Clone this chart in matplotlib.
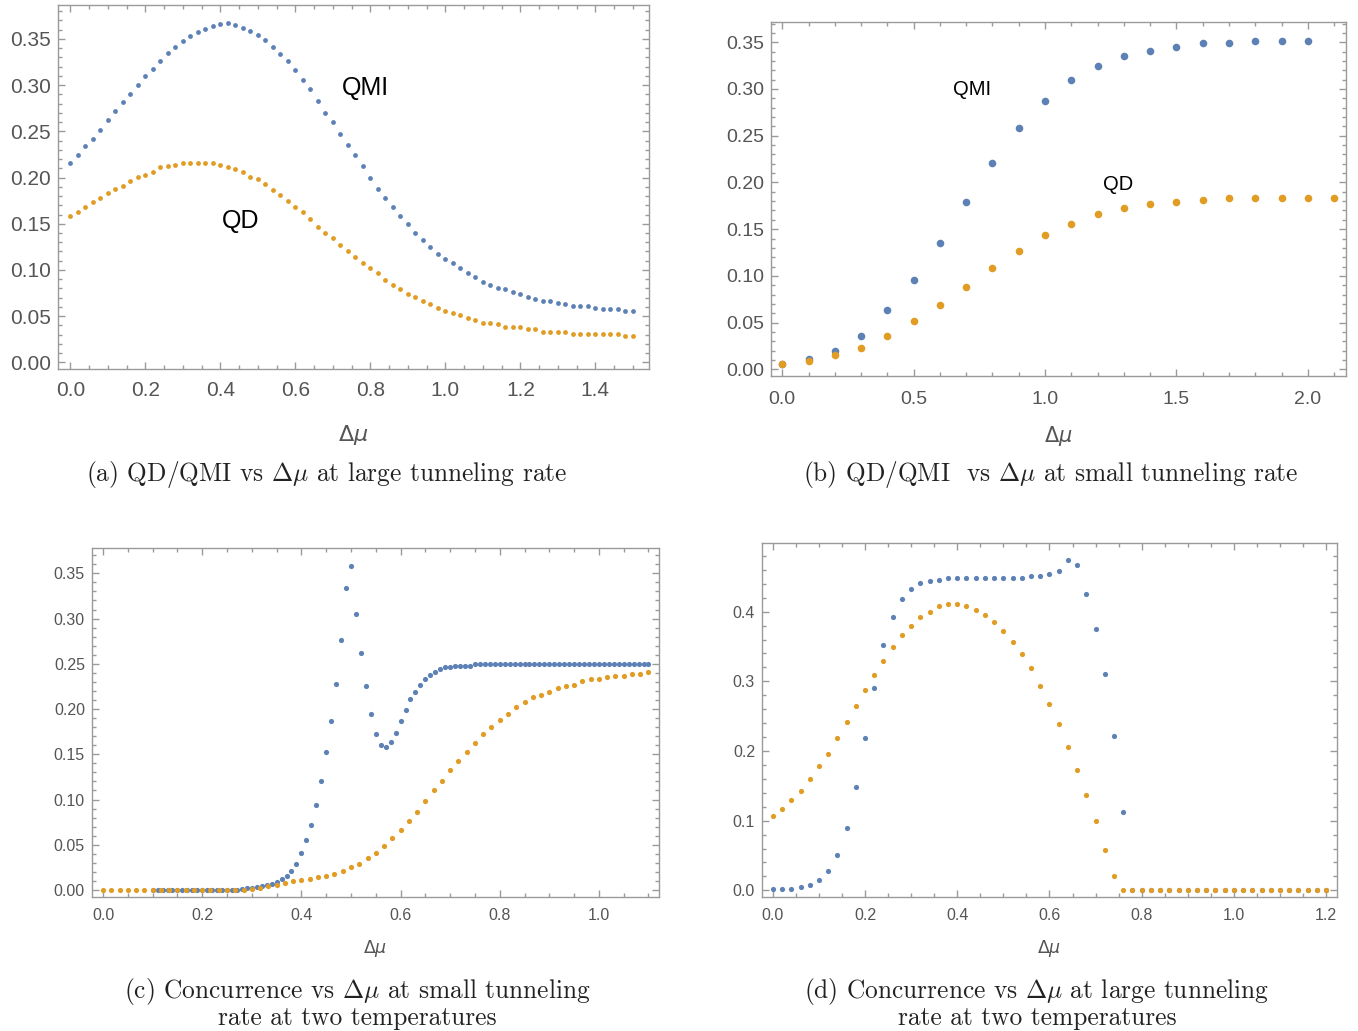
import matplotlib
matplotlib.use("Agg")
from matplotlib import pyplot as plt
from matplotlib.ticker import MultipleLocator, FormatStrFormatter
import numpy as np

plt.rcParams['font.family'] = ['Liberation Sans', 'DejaVu Sans']

BLUE = '#5E81B5'
ORANGE = '#E19C24'
FRAME = '#9a9a9a'
LABEL = '#555555'

# (a) large tunneling rate, step 0.02
mu_a = np.round(np.arange(0, 1.5001, 0.02), 2)
qmi_a = [0.216, 0.224, 0.234, 0.242, 0.252, 0.262, 0.272, 0.282, 0.290, 0.300,
         0.310, 0.318, 0.326, 0.335, 0.341, 0.348, 0.353, 0.358, 0.361, 0.364,
         0.366, 0.367, 0.365, 0.362, 0.359, 0.354, 0.349, 0.341, 0.334, 0.326,
         0.316, 0.306, 0.296, 0.283, 0.270, 0.260, 0.247, 0.235, 0.224, 0.212,
         0.199, 0.188, 0.178, 0.168, 0.158, 0.150, 0.140, 0.132, 0.125, 0.117,
         0.112, 0.107, 0.102, 0.097, 0.092, 0.087, 0.084, 0.081, 0.079, 0.076,
         0.074, 0.071, 0.069, 0.066, 0.066, 0.064, 0.063, 0.061, 0.061, 0.061,
         0.059, 0.058, 0.058, 0.058, 0.056, 0.056]
qd_a = [0.158, 0.163, 0.168, 0.173, 0.178, 0.183, 0.188, 0.191, 0.196, 0.201,
        0.203, 0.206, 0.211, 0.213, 0.214, 0.216, 0.216, 0.216, 0.216, 0.216,
        0.214, 0.211, 0.209, 0.206, 0.201, 0.198, 0.193, 0.186, 0.181, 0.175,
        0.168, 0.163, 0.155, 0.147, 0.140, 0.135, 0.127, 0.120, 0.114, 0.107,
        0.102, 0.097, 0.089, 0.084, 0.079, 0.074, 0.071, 0.066, 0.063, 0.059,
        0.056, 0.053, 0.051, 0.048, 0.046, 0.043, 0.043, 0.041, 0.038, 0.038,
        0.038, 0.036, 0.036, 0.033, 0.033, 0.033, 0.033, 0.031, 0.031, 0.031,
        0.031, 0.031, 0.031, 0.031, 0.028, 0.028]

# (b) small tunneling rate, step 0.1
mu_b_qmi = np.round(np.arange(0, 2.001, 0.1), 1)
qmi_b = [0.006, 0.011, 0.0195, 0.0355, 0.063, 0.096, 0.135, 0.179, 0.221, 0.258,
         0.287, 0.310, 0.3245, 0.335, 0.341, 0.345, 0.349, 0.349, 0.351, 0.351,
         0.351]
mu_b_qd = np.round(np.arange(0, 2.101, 0.1), 1)
qd_b = [0.006, 0.009, 0.015, 0.023, 0.0355, 0.052, 0.069, 0.088, 0.108, 0.127,
        0.144, 0.156, 0.1665, 0.173, 0.177, 0.179, 0.181, 0.183, 0.183, 0.183,
        0.183, 0.183]

# (c) concurrence, small tunneling rate
mu_c_1 = np.round(np.arange(0.10, 1.1001, 0.01), 2)
conc_c_1 = ([0.0] * 17 +
            [0.0005, 0.001, 0.002, 0.002, 0.003, 0.004, 0.005, 0.007, 0.009,
             0.012, 0.016, 0.021, 0.029, 0.041, 0.055, 0.072, 0.094, 0.121,
             0.152, 0.187, 0.228, 0.276, 0.334, 0.358, 0.305, 0.262, 0.225,
             0.194, 0.172, 0.160, 0.158, 0.164, 0.174, 0.187, 0.199, 0.211,
             0.219, 0.227, 0.233, 0.238, 0.241, 0.244, 0.246, 0.246, 0.248,
             0.248, 0.248, 0.248] +
            [0.250] * 36)
mu_c_2 = np.linspace(0, 1.1, 67)
conc_c_2 = ([0.0] * 18 +
            [0.001, 0.002, 0.004, 0.006, 0.008, 0.0095, 0.0106, 0.0125, 0.014,
             0.0157, 0.0175, 0.021, 0.025, 0.029, 0.035, 0.041, 0.049, 0.057,
             0.066, 0.076, 0.086, 0.098, 0.110, 0.121, 0.133, 0.143, 0.153,
             0.163, 0.172, 0.180, 0.188, 0.195, 0.202, 0.208, 0.213, 0.216,
             0.219, 0.223, 0.225, 0.227, 0.231, 0.233, 0.233, 0.235, 0.237,
             0.237, 0.239, 0.239, 0.241])

# (d) concurrence, large tunneling rate, step 0.02
mu_d = np.round(np.arange(0, 1.2001, 0.02), 2)
conc_d_1 = ([0.0024, 0.0024, 0.0024, 0.0048, 0.0072, 0.015, 0.028, 0.0505,
             0.089, 0.148, 0.219, 0.290, 0.352, 0.392, 0.418, 0.433, 0.441,
             0.444, 0.446, 0.449, 0.449, 0.449, 0.449, 0.449, 0.449, 0.449,
             0.449, 0.449, 0.4515, 0.4515, 0.454, 0.459, 0.474, 0.467, 0.426,
             0.375, 0.311, 0.222, 0.112] +
            [0.0] * 22)
conc_d_2 = ([0.107, 0.117, 0.130, 0.143, 0.160, 0.178, 0.196, 0.219, 0.242,
             0.265, 0.288, 0.3085, 0.329, 0.349, 0.367, 0.380, 0.392, 0.400,
             0.4076, 0.4105, 0.4105, 0.4076, 0.403, 0.395, 0.385, 0.372, 0.357,
             0.339, 0.3185, 0.293, 0.2675, 0.239, 0.206, 0.173, 0.137, 0.099,
             0.058, 0.020] +
            [0.0] * 23)


def frame(ax, xlim, ylim, xmaj, xmin, ymaj, ymin, xfmt, yfmt, fs, pad, lpad):
    ax.set_xlim(*xlim)
    ax.set_ylim(*ylim)
    ax.xaxis.set_major_locator(MultipleLocator(xmaj))
    ax.xaxis.set_minor_locator(MultipleLocator(xmin))
    ax.yaxis.set_major_locator(MultipleLocator(ymaj))
    ax.yaxis.set_minor_locator(MultipleLocator(ymin))
    ax.xaxis.set_major_formatter(FormatStrFormatter(xfmt))
    ax.yaxis.set_major_formatter(FormatStrFormatter(yfmt))
    ax.tick_params(which='both', direction='in', top=True, right=True,
                   color=FRAME, width=1.0, labelcolor=LABEL, labelsize=fs)
    ax.tick_params(which='major', length=5)
    ax.tick_params(axis='x', which='major', pad=pad)
    ax.tick_params(axis='y', which='major', pad=5)
    ax.tick_params(which='minor', length=3)
    for s in ax.spines.values():
        s.set_color(FRAME)
        s.set_linewidth(1.0)
    ax.set_xlabel(r'$\Delta\mu$', color=LABEL, fontsize=fs + 1, labelpad=lpad,
                  math_fontfamily='dejavusans')


W, H = 1358, 1031


def caption(txt, xc, yc):
    # caption placed by its centre in pixel coordinates of the page
    fig.text(xc / W, 1 - yc / H, txt, ha='center', va='center',
             fontsize=18.3, family='cmr10', math_fontfamily='cm',
             color='#222222', linespacing=1.0)


fig = plt.figure(figsize=(W / 100, H / 100), dpi=100)

ax1 = fig.add_axes([0.0427, 0.6421, 0.4352, 0.3530])
ax1.scatter(mu_a, qmi_a, s=12, color=BLUE, lw=0, zorder=3)
ax1.scatter(mu_a, qd_a, s=12, color=ORANGE, lw=0, zorder=3)
frame(ax1, (-0.033, 1.543), (-0.0072, 0.3867), 0.2, 0.05, 0.05, 0.01,
      '%.1f', '%.2f', 15, 9, 16)
ax1.text(0.787, 0.297, 'QMI', fontsize=18, color='black', ha='center', va='center')
ax1.text(0.453, 0.153, 'QD', fontsize=18, color='black', ha='center', va='center')
caption(r'(a) QD/QMI vs $\Delta\mu$ at large tunneling rate', 327, 475)

ax2 = fig.add_axes([0.5677, 0.6353, 0.4234, 0.3434])
ax2.scatter(mu_b_qmi, qmi_b, s=30, color=BLUE, lw=0, zorder=3)
ax2.scatter(mu_b_qd, qd_b, s=30, color=ORANGE, lw=0, zorder=3)
frame(ax2, (-0.043, 2.145), (-0.0071, 0.3717), 0.5, 0.1, 0.05, 0.01,
      '%.1f', '%.2f', 14, 11, 11)
ax2.text(0.724, 0.299, 'QMI', fontsize=14.5, color='black', ha='center', va='center')
ax2.text(1.28, 0.198, 'QD', fontsize=14.5, color='black', ha='center', va='center')
caption(r'(b) QD/QMI  vs $\Delta\mu$ at small tunneling rate', 1051, 475)

ax3 = fig.add_axes([0.0677, 0.1300, 0.4175, 0.3385])
ax3.scatter(mu_c_1, conc_c_1, s=14, color=BLUE, lw=0, zorder=3)
ax3.scatter(mu_c_2, conc_c_2, s=14, color=ORANGE, lw=0, zorder=4)
frame(ax3, (-0.0224, 1.121), (-0.0077, 0.378), 0.2, 0.05, 0.05, 0.01,
      '%.1f', '%.2f', 11.5, 8, 11)
caption('(c) Concurrence vs $\\Delta\\mu$ at small tunneling\nrate at two temperatures',
        357, 1003)

ax4 = fig.add_axes([0.5611, 0.1300, 0.4234, 0.3434])
ax4.scatter(mu_d, conc_d_1, s=14, color=BLUE, lw=0, zorder=3)
ax4.scatter(mu_d, conc_d_2, s=14, color=ORANGE, lw=0, zorder=4)
frame(ax4, (-0.0236, 1.2236), (-0.0095, 0.4987), 0.2, 0.05, 0.1, 0.02,
      '%.1f', '%.1f', 11.5, 8, 11)
caption('(d) Concurrence vs $\\Delta\\mu$ at large tunneling\nrate at two temperatures',
        1037, 1003)

fig.savefig('out.png', dpi=100)
